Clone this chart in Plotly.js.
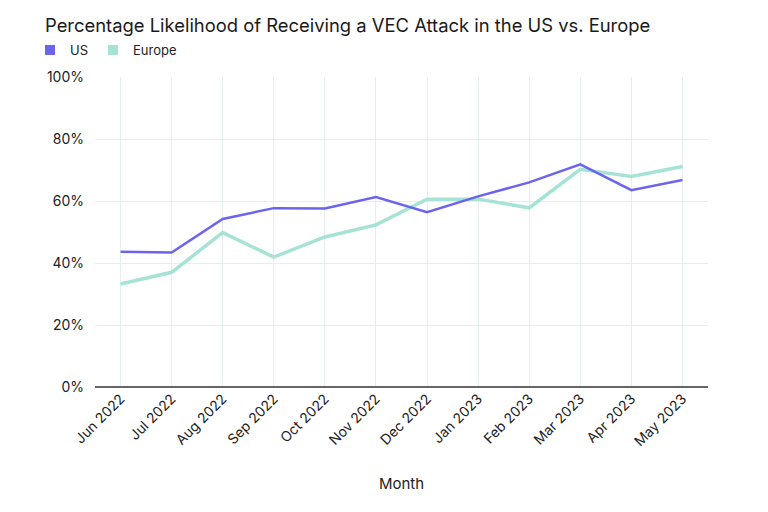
<!DOCTYPE html>
<html><head><meta charset="utf-8">
<script src="https://cdn.plot.ly/plotly-3.0.1.min.js"></script>
<style>html,body{margin:0;padding:0;background:#fff;}#chart{width:768px;height:512px;}</style>
</head><body><div id="chart"></div>
<script>
const months = ["Jun 2022","Jul 2022","Aug 2022","Sep 2022","Oct 2022","Nov 2022","Dec 2022","Jan 2023","Feb 2023","Mar 2023","Apr 2023","May 2023"];
const usValues = [43.6, 43.4, 54.2, 57.7, 57.6, 61.3, 56.4, 61.5, 66.0, 71.8, 63.5, 66.8];
const europeValues = [33.2, 37.0, 49.8, 41.9, 48.4, 52.3, 60.6, 60.6, 57.8, 70.2, 67.9, 71.1];
const yTicks = [0, 20, 40, 60, 80, 100];
const yTickLabels = ["0%", "20%", "40%", "60%", "80%", "100%"];

const usColor = "#6c64ee";
const euColor = "#a6e3d5";
const font = "Inter, 'Noto Sans', sans-serif";

const traces = [
  {x: months, y: europeValues, type: "scatter", mode: "lines", name: "Europe",
   line: {color: euColor, width: 3.5}, showlegend: false},
  {x: months, y: usValues, type: "scatter", mode: "lines", name: "US",
   line: {color: usColor, width: 2.5}, showlegend: false},
  {x: [null], y: [null], type: "scatter", mode: "markers", name: "US",
   marker: {symbol: "square", size: 10, color: usColor}},
  {x: [null], y: [null], type: "scatter", mode: "markers", name: "Europe",
   marker: {symbol: "square", size: 10, color: euColor}}
];

const layout = {
  width: 768, height: 512,
  paper_bgcolor: "#fff", plot_bgcolor: "#fff",
  margin: {l: 95, r: 60, t: 77, b: 125},
  font: {family: font, color: "#222", size: 13},
  title: {text: "Percentage Likelihood of Receiving a VEC Attack in the US vs. Europe",
          x: 45/768, xanchor: "left", y: 1 - 26/512, yanchor: "middle",
          font: {family: font, size: 18.4, color: "#1a1a1a"}},
  showlegend: true,
  legend: {orientation: "h", x: 30/768, xref: "container", xanchor: "left", y: 1 - 50/512, yref: "container", yanchor: "middle",
           font: {family: font, size: 13, color: "#222"}, traceorder: "normal", itemwidth: 30},
  xaxis: {
    type: "category", categoryarray: months, range: [-0.5, 11.5],
    tickangle: -45, tickfont: {family: font, size: 14, color: "#222"},
    showgrid: true, gridcolor: "#e6eef0", gridwidth: 1,
    showline: false, zeroline: false, ticks: "",
    title: {text: "Month", font: {family: font, size: 15, color: "#222"}, standoff: 30}
  },
  yaxis: {
    range: [0, 100], tickvals: yTicks, ticktext: yTickLabels,
    tickfont: {family: font, size: 14, color: "#222"},
    showgrid: true, gridcolor: "#ececec", gridwidth: 1,
    zeroline: true, zerolinecolor: "#666", zerolinewidth: 1.5,
    showline: false, ticks: "", ticklabelstandoff: 10
  }
};

Plotly.newPlot("chart", traces, layout, {displayModeBar: false, staticPlot: true});
</script></body></html>
